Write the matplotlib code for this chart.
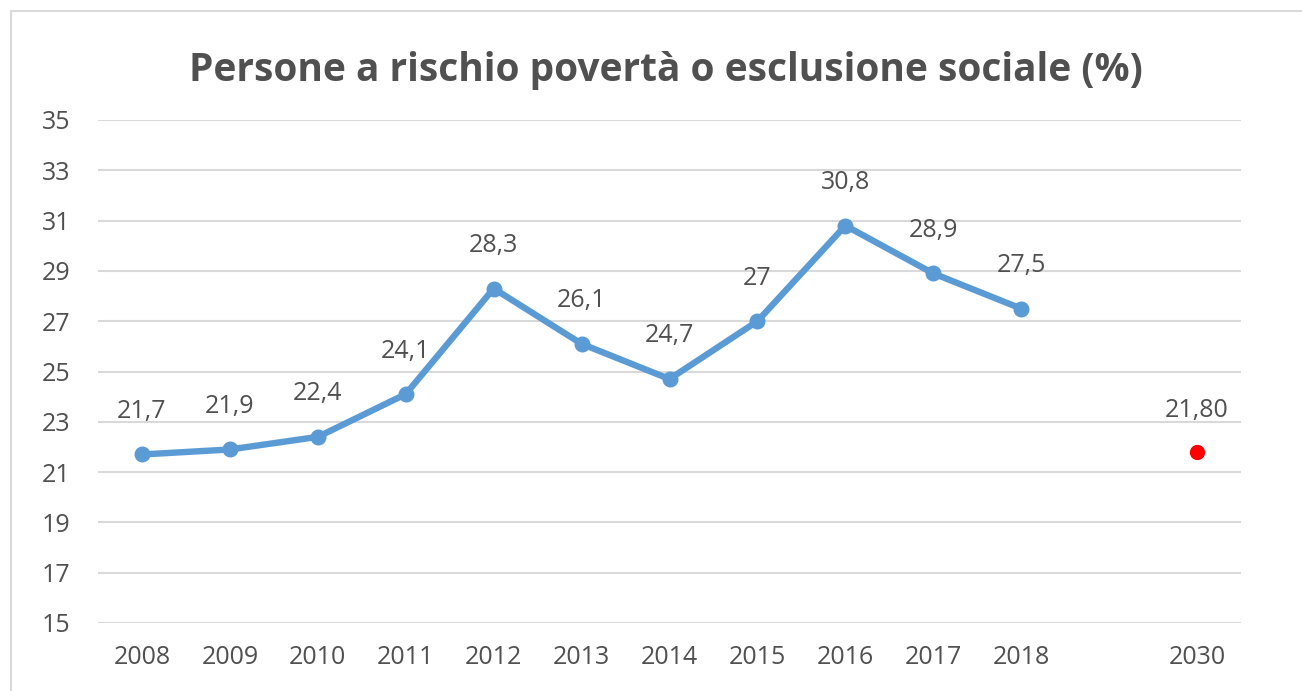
import matplotlib
matplotlib.use("Agg")
import matplotlib.pyplot as plt
from matplotlib.patches import Rectangle
import numpy as np

categories = ["2008", "2009", "2010", "2011", "2012", "2013", "2014", "2015",
              "2016", "2017", "2018", "", "2030"]
values = [21.7, 21.9, 22.4, 24.1, 28.3, 26.1, 24.7, 27.0, 30.8, 28.9, 27.5]
value_labels = ["21,7", "21,9", "22,4", "24,1", "28,3", "26,1", "24,7", "27",
                "30,8", "28,9", "27,5"]
target_value = 21.8
target_label = "21,80"
target_category = "2030"
yticks = [15, 17, 19, 21, 23, 25, 27, 29, 31, 33, 35]
title = "Persone a rischio povertà o esclusione sociale (%)"

plt.rcParams['font.family'] = ['Open Sans', 'DejaVu Sans']
txt = "#505050"

fig = plt.figure(figsize=(13.02, 6.91), dpi=100)
fig.patches.append(Rectangle((11/1302, -0.1), 1.2, 1 - 11/691 + 0.1,
                             transform=fig.transFigure, fill=False,
                             edgecolor="#D9D9D9", linewidth=1.5))
ax = fig.add_axes([98/1302, 68/691, 1143/1302, 503/691])

x = np.arange(len(categories))
ax.plot(x[:len(values)], values, color="#5B9BD5", linewidth=4.6,
        marker="o", markersize=10.5, solid_capstyle="round", zorder=3)
tx = categories.index(target_category)
ax.plot([tx], [target_value], "o", color="#FF0000", markersize=10, zorder=3)

for xi, v, lab in zip(x, values, value_labels):
    ax.annotate(lab, (xi, v), xytext=(0, 31), textcoords="offset points",
                ha="center", va="center", fontsize=18, color=txt)
ax.annotate(target_label, (tx, target_value), xytext=(0, 30),
            textcoords="offset points", ha="center", va="center",
            fontsize=18, color=txt)

ax.set_xlim(-0.5, len(categories) - 0.5)
ax.set_ylim(15, 35)
ax.set_yticks(yticks)
ax.set_xticks(x)
ax.set_xticklabels(categories)
ax.grid(axis="y", color="#D9D9D9", linewidth=1.5)
ax.set_axisbelow(True)
for s in ax.spines.values():
    s.set_visible(False)
ax.tick_params(axis="both", length=0, labelsize=18, labelcolor=txt)
ax.tick_params(axis="y", pad=20)
ax.tick_params(axis="x", pad=16)

fig.text(666/1302, 1 - 70/691, title, ha="center", va="center",
         fontsize=28, fontweight="bold", color=txt)

fig.savefig("out.png", dpi=100)
